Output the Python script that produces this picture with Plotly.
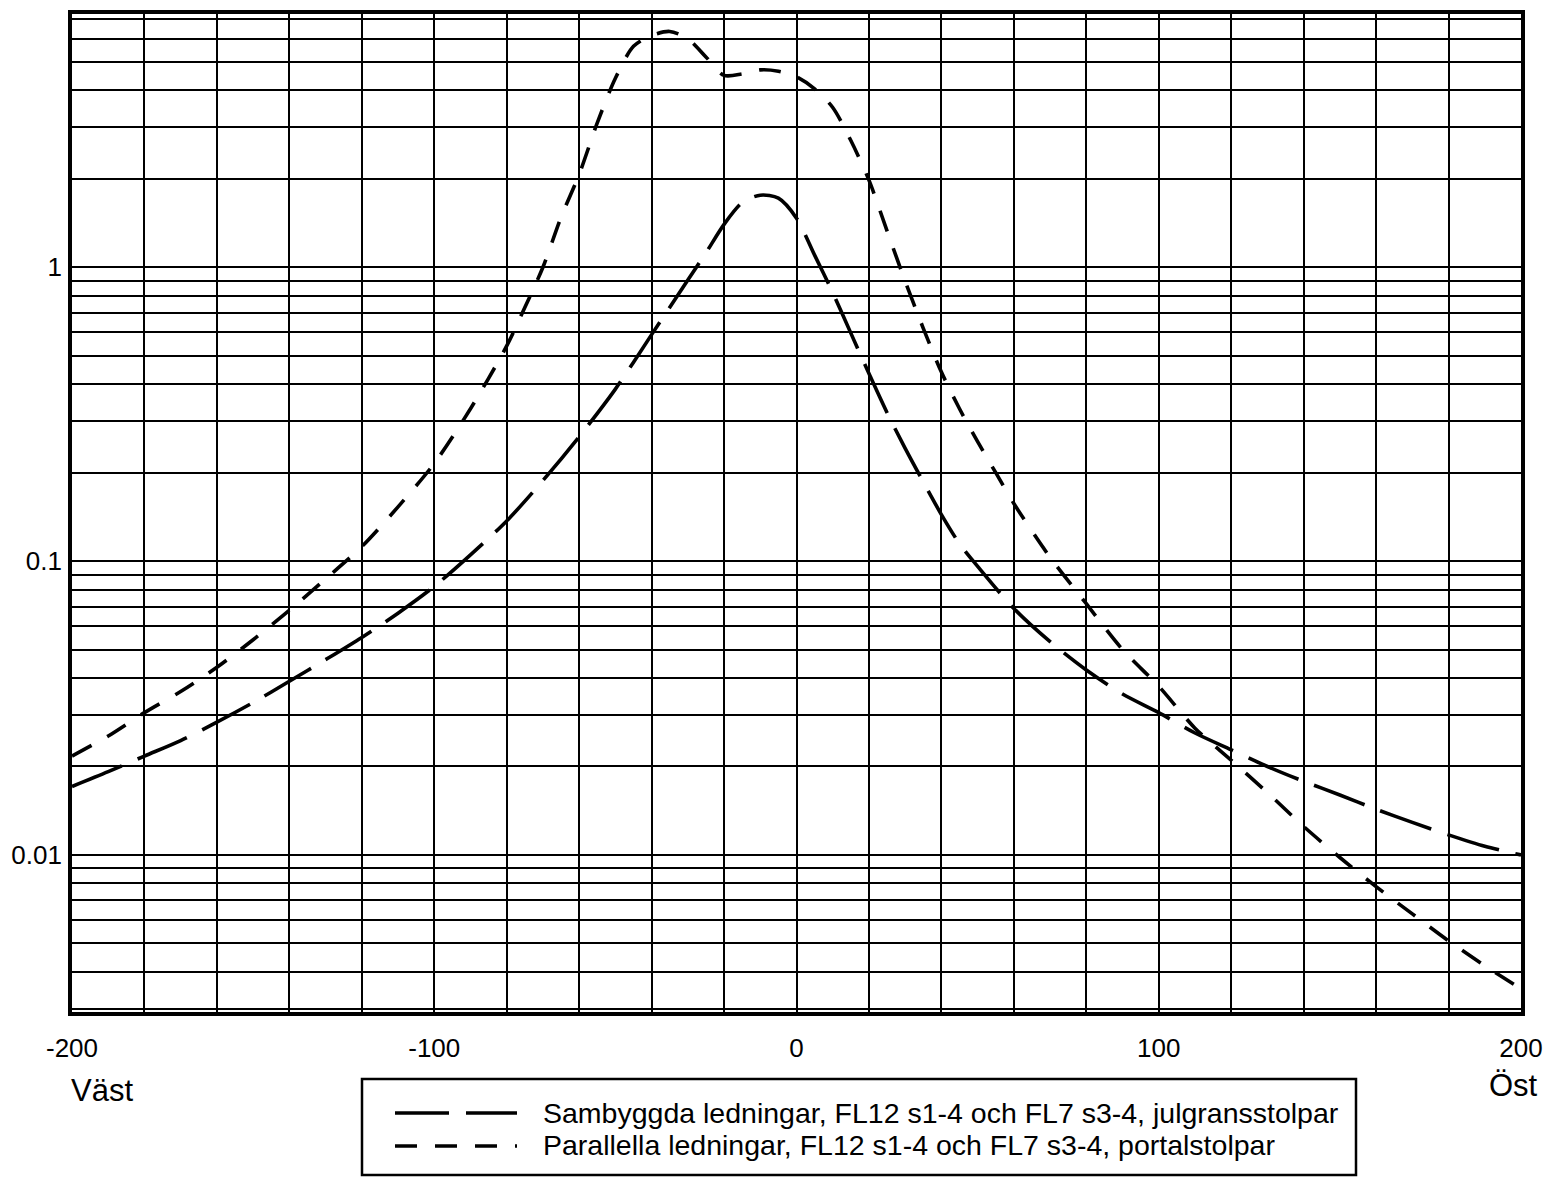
import math
import plotly.graph_objects as go

# ---------------- data ----------------
x_samb = [-200, -190, -180, -170, -160, -150, -140, -130, -120, -110, -100, -90, -80, -70, -60,
          -50, -40, -30, -25, -20, -15, -10, -5, 0, 5, 10, 15, 20, 25, 30, 35, 40, 45, 50,
          60, 70, 80, 90, 100, 110, 120, 130, 140, 150, 160, 170, 180, 190, 200]
y_samb = [0.0171, 0.0192, 0.0217, 0.0245, 0.0283, 0.0330, 0.0390, 0.0462, 0.055, 0.0665, 0.082,
          0.105, 0.137, 0.188, 0.265, 0.385, 0.59, 0.905, 1.12, 1.40, 1.66, 1.76, 1.72, 1.47,
          1.10, 0.82, 0.597, 0.435, 0.32, 0.242, 0.186, 0.144, 0.1146, 0.096, 0.069, 0.0532,
          0.0426, 0.0353, 0.0305, 0.026, 0.0228, 0.020, 0.0178, 0.016, 0.0143, 0.0129, 0.0117,
          0.0107, 0.0100]

x_para = [-200, -190, -180, -170, -160, -150, -140, -130, -120, -110, -100, -90, -80, -75, -70,
          -65, -60, -55, -50, -45, -40, -35, -30, -25, -20, -15, -10, -5, 0, 5, 10, 15, 20, 25,
          30, 35, 40, 45, 50, 55, 60, 70, 80, 90, 100, 110, 120, 130, 140, 150, 160, 170, 180,
          190, 200]
y_para = [0.0217, 0.0254, 0.0305, 0.036, 0.0435, 0.054, 0.068, 0.087, 0.112, 0.153, 0.215, 0.33,
          0.54, 0.73, 1.0, 1.48, 2.07, 3.1, 4.4, 5.65, 6.15, 6.35, 6.0, 5.2, 4.5, 4.55, 4.7, 4.65,
          4.45, 4.05, 3.5, 2.7, 1.98, 1.33, 0.896, 0.62, 0.44, 0.33, 0.255, 0.2, 0.157, 0.103,
          0.0716, 0.05, 0.0375, 0.027, 0.021, 0.0163, 0.0125, 0.0098, 0.0078, 0.0063, 0.0051,
          0.0042, 0.0035]

series_names = ["Sambyggda ledningar, FL12 s1-4 och FL7 s3-4, julgransstolpar",
                "Parallella ledningar, FL12 s1-4 och FL7 s3-4, portalstolpar"]

x_tickvals = list(range(-200, 201, 20))
x_ticktext = [str(v) if v % 100 == 0 else "" for v in x_tickvals]

y_tickvals = [k * 10.0 ** e for e in (-3, -2, -1, 0) for k in range(1, 10)]
y_labels = {0.01: "0.01", 0.1: "0.1", 1.0: "1"}
y_ticktext = [y_labels.get(round(v, 6), "") for v in y_tickvals]

x_range = [-200, 200]
y_range = [math.log10(0.00292), math.log10(7.28)]

west_label, east_label = "Väst", "Öst"

# ---------------- styling / layout ----------------
W, H = 1554, 1177
ML, MR, MT, MB = 72, 33, 14, 165
PW, PH = W - ML - MR, H - MT - MB
FONT = "Liberation Sans, Arial, Helvetica, sans-serif"
DASH_LONG = "54px,17px"
DASH_SHORT = "22px,18px"
LW = 3.6


def px_x(p):
    return (p - ML) / PW


def px_y(p):
    return (H - MB - p) / PH


fig = go.Figure()
fig.add_trace(go.Scatter(x=x_samb, y=y_samb, mode="lines", name=series_names[0],
                         line=dict(color="black", width=LW, dash=DASH_LONG, shape="spline",
                                   smoothing=0.8),
                         showlegend=False))
fig.add_trace(go.Scatter(x=x_para, y=y_para, mode="lines", name=series_names[1],
                         line=dict(color="black", width=LW, dash=DASH_SHORT, shape="spline",
                                   smoothing=0.8),
                         showlegend=False))

axis_common = dict(showgrid=True, gridcolor="black", gridwidth=1.8, showline=True, mirror=True,
                   linecolor="black", linewidth=3.8, zeroline=False, ticks="",
                   tickfont=dict(family=FONT, size=26, color="black"))

fig.update_xaxes(range=x_range, tickmode="array", tickvals=x_tickvals, ticktext=x_ticktext,
                 ticklabelstandoff=10, **axis_common)
fig.update_yaxes(type="log", range=y_range, tickmode="array", tickvals=y_tickvals,
                 ticktext=y_ticktext, ticklabelstandoff=1, **axis_common)

shapes = [
    dict(type="rect", xref="paper", yref="paper", x0=px_x(362), x1=px_x(1356),
         y0=px_y(1079), y1=px_y(1175), line=dict(color="black", width=2.5),
         fillcolor="rgba(0,0,0,0)"),
    dict(type="line", xref="paper", yref="paper", x0=px_x(395), x1=px_x(517),
         y0=px_y(1113), y1=px_y(1113), line=dict(color="black", width=LW, dash=DASH_LONG)),
    dict(type="line", xref="paper", yref="paper", x0=px_x(395), x1=px_x(517),
         y0=px_y(1146), y1=px_y(1146), line=dict(color="black", width=LW, dash=DASH_SHORT)),
]

annotations = [
    dict(text=west_label, xref="paper", yref="paper", x=0, y=0, xanchor="left",
         yanchor="middle", xshift=-3, yshift=-78, showarrow=False,
         font=dict(family=FONT, size=31, color="black")),
    dict(text=east_label, xref="paper", yref="paper", x=1, y=0, xanchor="center",
         yanchor="middle", xshift=-8, yshift=-73, showarrow=False,
         font=dict(family=FONT, size=31, color="black")),
    dict(text=series_names[0], xref="paper", yref="paper", x=px_x(541), y=px_y(1113),
         xanchor="left", yanchor="middle", showarrow=False,
         font=dict(family=FONT, size=28.5, color="black")),
    dict(text=series_names[1], xref="paper", yref="paper", x=px_x(541), y=px_y(1145),
         xanchor="left", yanchor="middle", showarrow=False,
         font=dict(family=FONT, size=28.5, color="black")),
]

fig.update_layout(width=W, height=H, margin=dict(l=ML, r=MR, t=MT, b=MB, autoexpand=False),
                  paper_bgcolor="white", plot_bgcolor="white", shapes=shapes,
                  annotations=annotations, showlegend=False,
                  font=dict(family=FONT, color="black"))

fig.write_html("out.html")
